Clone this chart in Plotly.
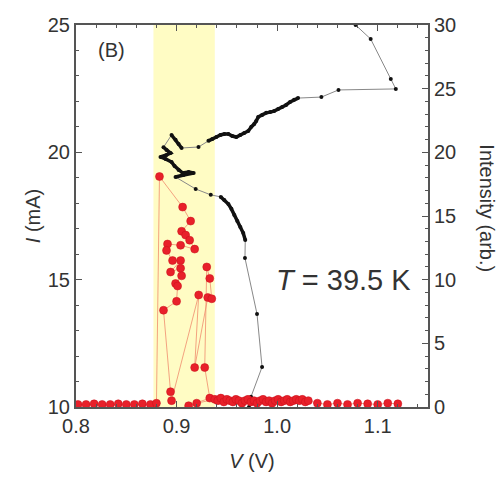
import plotly.graph_objects as go

# Black I-V curve (left axis, mA)
iv_v = [1.078, 1.093, 1.113, 1.118, 1.061, 1.044, 1.0208, 1.0168, 1.0129, 1.0089, 1.0050, 1.0010,
        0.9970, 0.9931, 0.9891, 0.9851, 0.9812, 0.9792, 0.9772, 0.9743, 0.9713, 0.9673, 0.9634,
        0.9594, 0.9554, 0.9515, 0.9475, 0.9436, 0.9396, 0.9356, 0.9317, 0.9218, 0.905, 0.902,
        0.899, 0.895, 0.887, 0.890, 0.894, 0.890, 0.884, 0.889, 0.895, 0.898, 0.902, 0.906,
        0.912, 0.917, 0.907, 0.899, 0.919, 0.934, 0.944, 0.9475, 0.9515, 0.9545, 0.9574, 0.9604,
        0.9634, 0.9663, 0.9683, 0.968, 0.980, 0.985, 0.974, 0.972]
iv_i = [25.0, 24.45, 22.88, 22.49, 22.45, 22.17, 22.13, 22.06, 21.98, 21.86, 21.78, 21.70,
        21.62, 21.58, 21.55, 21.47, 21.39, 21.23, 21.11, 21.00, 20.84, 20.76, 20.68,
        20.60, 20.64, 20.72, 20.72, 20.68, 20.60, 20.52, 20.45, 20.21, 20.17, 20.33,
        20.49, 20.68, 20.20, 20.09, 19.97, 19.90, 19.82, 19.74, 19.62, 19.46, 19.31, 19.19,
        19.23, 19.19, 19.11, 19.03, 18.56, 18.33, 18.25, 18.13, 17.97, 17.78, 17.54, 17.30,
        17.07, 16.83, 16.56, 15.85, 13.65, 11.57, 10.40, 10.00]
# index ranges of the densely sampled (thick-looking) stretches of the I-V curve
dense_runs = [(6, 31), (32, 36), (36, 50), (52, 61)]

# Red intensity points (right axis, arb.)
int_v = [0.802, 0.810, 0.818, 0.826, 0.834, 0.842, 0.850, 0.858, 0.866, 0.874, 0.880,
         0.883, 0.906, 0.914, 0.905, 0.909, 0.913, 0.918, 0.904, 0.891, 0.890, 0.896, 0.904,
         0.894, 0.904, 0.905, 0.899, 0.901, 0.900, 0.887, 0.894, 0.895, 0.922, 0.918, 0.931,
         0.935, 0.933, 0.930, 0.928, 0.933, 0.912, 0.920,
         0.938, 0.941, 0.944, 0.947, 0.950, 0.953, 0.956, 0.959, 0.962, 0.965, 0.968, 0.971,
         0.974, 0.977, 0.980, 0.983, 0.986, 0.989, 0.992, 0.995, 0.998, 1.001, 1.004, 1.007,
         1.010, 1.013, 1.016, 1.019, 1.022, 1.025, 1.028, 1.031,
         1.040, 1.050, 1.060, 1.070, 1.080, 1.090, 1.100, 1.110, 1.120]
int_y = [0.2, 0.2, 0.25, 0.2, 0.2, 0.25, 0.2, 0.2, 0.25, 0.2, 0.3,
         18.1, 15.7, 14.6, 13.8, 13.5, 13.1, 12.4, 12.7, 12.8, 12.3, 11.5, 11.5,
         10.6, 10.9, 10.3, 9.7, 9.5, 8.3, 7.6, 1.2, 0.5, 8.8, 3.1, 8.6,
         8.5, 10.1, 11.0, 3.1, 0.7, 0.1, 0.3,
         0.6, 0.5, 0.7, 0.4, 0.6, 0.5, 0.4, 0.6, 0.5, 0.3, 0.5, 0.6,
         0.4, 0.5, 0.3, 0.5, 0.6, 0.4, 0.5, 0.3, 0.5, 0.6, 0.4, 0.5,
         0.6, 0.4, 0.5, 0.6, 0.5, 0.6, 0.4, 0.5,
         0.3, 0.2, 0.3, 0.2, 0.3, 0.25, 0.2, 0.3, 0.25]

band = [0.877, 0.938]

fig = go.Figure()
fig.add_shape(type="rect", xref="x", yref="paper", x0=band[0], x1=band[1], y0=0, y1=1,
              fillcolor="rgb(255,252,196)", line_width=0, layer="below")

fig.add_trace(go.Scatter(x=iv_v, y=iv_i, mode="lines+markers",
                         line=dict(color="#888", width=1),
                         marker=dict(color="#111", size=4), yaxis="y", showlegend=False))
for a, b in dense_runs:
    fig.add_trace(go.Scatter(x=iv_v[a:b], y=iv_i[a:b], mode="lines",
                             line=dict(color="#111", width=3.5), yaxis="y", showlegend=False))
fig.add_trace(go.Scatter(x=int_v, y=int_y, mode="lines+markers",
                         line=dict(color="rgba(240,140,110,0.8)", width=1),
                         marker=dict(color="#e8202a", size=8, line=dict(color="#c8101a", width=0.5)),
                         yaxis="y2", showlegend=False))

axcol = "#555"
ff = "Arial, Liberation Sans, sans-serif"
tfont = dict(family=ff, size=20, color="#333")
fig.update_layout(
    width=500, height=477,
    margin=dict(l=76, r=72, t=25, b=70),
    plot_bgcolor="white", paper_bgcolor="white",
    font=tfont,
    xaxis=dict(range=[0.8, 1.15], dtick=0.1, tickformat=".1f", ticks="inside", ticklen=6,
               tickcolor=axcol, showline=True, linecolor=axcol, linewidth=2, mirror="ticks",
               showgrid=False, zeroline=False, automargin=False,
               minor=dict(dtick=0.02, ticks="inside", ticklen=3, tickcolor=axcol),
               title=dict(text="<i>V</i> (V)", font=tfont, standoff=18)),
    yaxis=dict(range=[10, 25], dtick=5, ticks="inside", ticklen=6, tickcolor=axcol,
               showline=True, linecolor=axcol, linewidth=2, showgrid=False, zeroline=False,
               automargin=False,
               minor=dict(dtick=1, ticks="inside", ticklen=3, tickcolor=axcol),
               title=dict(text="<i>I</i> (mA)", font=tfont, standoff=2)),
    yaxis2=dict(range=[0, 30], dtick=5, ticks="inside", ticklen=6, tickcolor=axcol,
                overlaying="y", side="right", showline=True, linecolor=axcol, linewidth=2,
                showgrid=False, zeroline=False, automargin=False,
                minor=dict(dtick=1, ticks="inside", ticklen=3, tickcolor=axcol)),
    annotations=[
        dict(text="(B)", x=0.835, y=24.0, xref="x", yref="y", showarrow=False,
             font=dict(family=ff, size=20, color="#333")),
        dict(text="<i>T</i> = 39.5 K", x=1.066, y=15.0, xref="x", yref="y", showarrow=False,
             font=dict(family=ff, size=29, color="#333")),
        dict(text="Intensity (arb.)", x=(487 - 76) / 352, y=0.52, xref="paper", yref="paper",
             xanchor="center", yanchor="middle",
             showarrow=False, textangle=90, font=tfont),
    ],
)
fig.write_html("out.html", config={"displayModeBar": False},
               post_script="document.body.style.margin='0';")
